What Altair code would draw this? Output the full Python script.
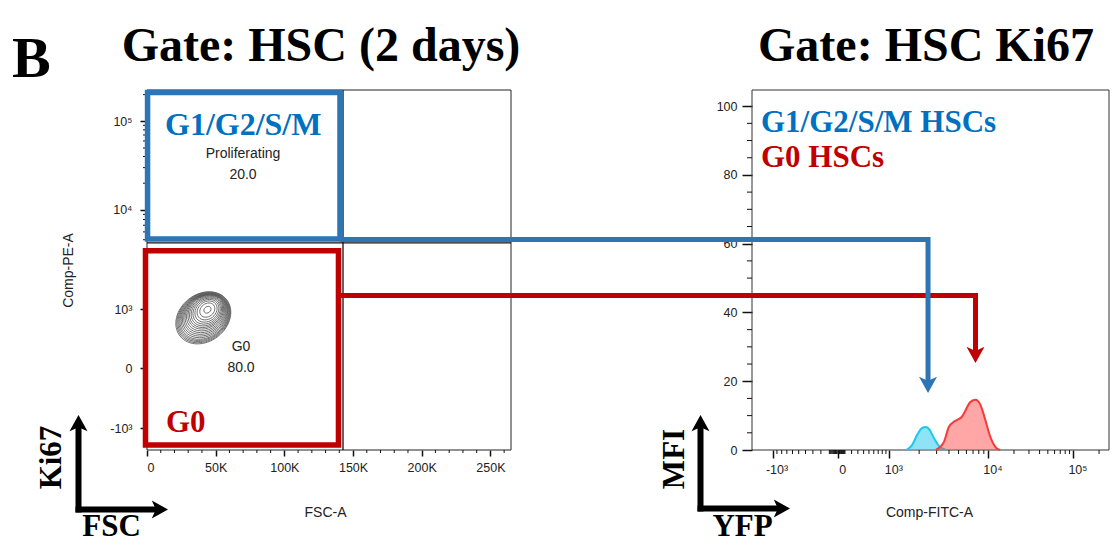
import math
import altair as alt
import pandas as pd

# ----------------------------- data -----------------------------
FSC_DOMAIN = [0, 265000]
FSC_TICKS = [0, 50000, 100000, 150000, 200000, 250000]
FSC_TICK_LABELS = ["0", "50K", "100K", "150K", "200K", "250K"]
FSC_MINOR = [10000, 20000, 30000, 40000, 60000, 70000, 80000, 90000,
             110000, 120000, 130000, 140000, 160000, 170000, 180000, 190000,
             210000, 220000, 230000, 240000, 260000]

CH_DOMAIN = [0, 1024]                      # logicle display channel
DECADES = [-1000, 0, 1000, 10000, 100000]
DECADE_LABELS = ["-10³", "0", "10³", "10⁴", "10⁵"]
PE_DECADE_CH = [62, 233, 401, 683, 935]    # Comp-PE-A channel of each decade
FITC_DECADE_CH = [59, 247, 394, 678, 922]  # Comp-FITC-A channel of each decade
MINOR_VALUES = ([-900, -800, -700, -600, -500, -400, -300, -200, -100,
                 -90, -80, -70, -60, -50, -40, -30, -20, -10,
                 10, 20, 30, 40, 50, 60, 70, 80, 90,
                 100, 200, 300, 400, 500, 600, 700, 800, 900,
                 2000, 3000, 4000, 5000, 6000, 7000, 8000, 9000,
                 20000, 30000, 40000, 50000, 60000, 70000, 80000, 90000, 200000])

MFI_DOMAIN = [0, 104.7]
MFI_TICKS = [0, 20, 40, 60, 80, 100]
MFI_MINOR = [5, 10, 15, 25, 30, 35, 45, 50, 55, 65, 70, 75, 85, 90, 95]

# gates: FSC-A (linear) x Comp-PE-A (channel)
GATE_NAMES = ["G1/G2/S/M", "G0"]
GATE_FSC_MIN = [400, -1100]
GATE_FSC_MAX = [140500, 139400]
GATE_PE_MIN = [600, 14]
GATE_PE_MAX = [1017, 567]
GATE_STAT_NAME = ["Proliferating", "G0"]
GATE_PCT = ["20.0", "80.0"]
QUAD_FSC = [142700]
QUAD_PE = [589]

# contour levels of the HSC population
CONTOUR_LEVEL = [1, 2, 3, 4, 5, 6, 7, 8, 9, 10, 11, 12, 13, 14, 15, 16, 17, 18]
CONTOUR_FSC = [41000, 41150, 41300, 41450, 41600, 41800, 42000, 42200, 42400,
               42600, 42800, 43000, 43200, 43400, 43600, 43750, 43900, 44000]
CONTOUR_PE = [376, 377, 378, 379, 380, 382, 384, 386, 388,
              390, 392, 393, 394, 395, 396, 397, 398, 399]

# histograms: Comp-FITC-A channel vs MFI
BLUE_CH = [442.5, 459.5, 473.7, 487.9, 499.2, 507.7, 521.9, 536.1, 556.0]
BLUE_MFI = [0, 1.5, 4.4, 6.4, 6.7, 6.1, 3.5, 1.2, 0]
RED_CH = [527.6, 550.3, 564.5, 578.7, 601.4, 626.9, 641.1, 655.3, 669.4, 683.6, 700.6, 712.0]
RED_MFI = [0, 2.3, 6.7, 8.2, 9.6, 14.0, 14.6, 13.1, 8.7, 3.8, 0.6, 0]

# connector arrows from the gates to their histograms (right-panel units)
ARROW_START_CH = [-1182, -1182]
ARROW_CORNER_CH = [504.9, 641.1]
ARROW_Y_MFI = [61.2, 44.9]
ARROW_HEAD_MFI = [19.2, 27.9]

# ----------------------------- style -----------------------------
BLUE = "#2E75B6"
BLUE_TXT = "#0070C0"
RED = "#C00000"
SERIF = "Liberation Serif"
SANS = "Liberation Sans"
HEAD = "M 0 -1 L 1 0.8 L 0 0.35 L -1 0.8 Z"
ELLIPSE = "M -1 0 A 1 0.8 0 1 1 1 0 A 1 0.8 0 1 1 -1 0 Z"
DUMMY = pd.DataFrame({"a": [0]})
W = 962
XR0 = 605


def chain(values, labels):
    expr = "''"
    for v, l in reversed(list(zip(values, labels))):
        expr = f"datum.value == {v} ? '{l}' : {expr}"
    return expr


def logicle_ch(v, anchors):
    cm, c0, c3, c4, c5 = anchors
    if abs(v) <= 1000:
        frac = math.asinh(v / 543.0) / math.asinh(1000 / 543.0)
        return c0 + frac * ((c3 - c0) if v >= 0 else (c0 - cm))
    d = math.log10(v)
    if d <= 4:
        return c3 + (d - 3) * (c4 - c3)
    return c4 + (d - 4) * (c5 - c4)


COMMON = dict(grid=False, domain=False, tickColor="#111", tickWidth=1.5,
              labelFont=SANS, labelFontSize=12.5, labelColor="#222",
              titleFont=SANS, titleFontSize=14, titleFontWeight="normal", titleColor="#222")

SC_XL = alt.Scale(domain=FSC_DOMAIN, range=[0, 364], nice=False, zero=False)
SC_YL = alt.Scale(domain=CH_DOMAIN, nice=False, zero=False)
SC_XR = alt.Scale(domain=CH_DOMAIN, range=[XR0, W], nice=False, zero=False)
SC_YR = alt.Scale(domain=MFI_DOMAIN, nice=False, zero=False)

AX_XL = alt.Axis(orient="bottom", values=FSC_TICKS, labelExpr=chain(FSC_TICKS, FSC_TICK_LABELS),
                 tickSize=6, labelPadding=5, title="FSC-A", titleX=178, titleY=62,
                 titleBaseline="middle", **COMMON)
AX_YL = alt.Axis(orient="left", values=PE_DECADE_CH, labelExpr=chain(PE_DECADE_CH, DECADE_LABELS),
                 tickSize=7, labelPadding=8, title="Comp-PE-A", titleX=-79, titleY=180,
                 titleAngle=270, titleBaseline="middle", **COMMON)
AX_XR = alt.Axis(orient="bottom", values=FITC_DECADE_CH, labelExpr=chain(FITC_DECADE_CH, DECADE_LABELS),
                 tickSize=8, labelPadding=5, labelOffset=4, title="Comp-FITC-A", titleX=782, titleY=62,
                 titleBaseline="middle", **COMMON)
AX_YR = alt.Axis(orient="left", offset=-XR0, values=MFI_TICKS, format="d",
                 tickSize=10, labelPadding=5, title=None, **COMMON)


def xl(f):
    return alt.X(f, type="quantitative", scale=SC_XL, axis=AX_XL)


def yl(f):
    return alt.Y(f, type="quantitative", scale=SC_YL, axis=AX_YL)


def xr(f):
    return alt.X(f, type="quantitative", scale=SC_XR, axis=AX_XR)


def yr(f):
    return alt.Y(f, type="quantitative", scale=SC_YR, axis=AX_YR, stack=None)


def label(text, x, y, size, color="#222", font=SANS, weight="normal", align="center",
          baseline="middle", angle=0):
    return alt.Chart(pd.DataFrame({"t": [text]})).mark_text(
        font=font, fontSize=size, fontWeight=weight, color=color, align=align,
        baseline=baseline, angle=angle).encode(x=alt.value(x), y=alt.value(y), text="t:N")


def prule(x1, x2, y1, y2, color, w):
    return alt.Chart(DUMMY).mark_rule(color=color, strokeWidth=w, strokeCap="butt").encode(
        x=alt.value(x1), x2=alt.value(x2), y=alt.value(y1), y2=alt.value(y2))


def phead(x, y, angle, color):
    return alt.Chart(DUMMY).mark_point(shape=HEAD, filled=True, color=color, size=324,
                                       angle=angle, opacity=1).encode(x=alt.value(x), y=alt.value(y))


# ----------------------------- left panel -----------------------------
frame_l = alt.Chart(pd.DataFrame({"x1": [FSC_DOMAIN[0]], "x2": [FSC_DOMAIN[1]],
                                  "y1": [CH_DOMAIN[0]], "y2": [CH_DOMAIN[1]]})).mark_rect(
    fillOpacity=0, stroke="#222", strokeWidth=1).encode(x=xl("x1"), x2="x2", y=yl("y1"), y2="y2")

quad_v = alt.Chart(pd.DataFrame({"q": QUAD_FSC})).mark_rule(color="#111", strokeWidth=1.3).encode(
    x=xl("q"), y=alt.value(0), y2=alt.value(360))
quad_h = alt.Chart(pd.DataFrame({"q": QUAD_PE})).mark_rule(color="#111", strokeWidth=1.3).encode(
    y=yl("q"), x=alt.value(0), x2=alt.value(364))

contours = alt.Chart(pd.DataFrame({"level": CONTOUR_LEVEL, "fsc": CONTOUR_FSC, "pe": CONTOUR_PE})).mark_point(
    shape=ELLIPSE, filled=False, color="#5a5a5a", strokeWidth=0.8, angle=322, opacity=1).encode(
    x=xl("fsc"), y=yl("pe"),
    size=alt.Size("level:Q", scale=alt.Scale(domain=[1, 18], range=[3500, 60]), legend=None))

gates = alt.Chart(pd.DataFrame({"gate": GATE_NAMES, "x1": GATE_FSC_MIN, "x2": GATE_FSC_MAX,
                                "y1": GATE_PE_MIN, "y2": GATE_PE_MAX})).mark_rect(
    fillOpacity=0, strokeWidth=5.5, strokeJoin="miter").encode(
    x=xl("x1"), x2="x2", y=yl("y1"), y2="y2",
    stroke=alt.Stroke("gate:N", scale=alt.Scale(domain=GATE_NAMES, range=[BLUE, RED]), legend=None))

minor_xl = alt.Chart(pd.DataFrame({"v": FSC_MINOR})).mark_rule(color="#111", strokeWidth=1).encode(
    x=xl("v"), y=alt.value(360), y2=alt.value(363))
pe_minor = [c for c in (logicle_ch(v, PE_DECADE_CH) for v in MINOR_VALUES) if 0 <= c <= 1024]
minor_yl = alt.Chart(pd.DataFrame({"v": pe_minor})).mark_rule(color="#111", strokeWidth=1).encode(
    y=yl("v"), x=alt.value(-4), x2=alt.value(0))

left = alt.layer(
    frame_l, quad_v, quad_h, contours, minor_xl, minor_yl,
    label(GATE_STAT_NAME[0], 96, 64, 14),
    label(GATE_PCT[0], 96, 85, 14),
    label(GATE_STAT_NAME[1], 94, 257, 14),
    label(GATE_PCT[1], 94, 278, 14),
    gates,
    label(GATE_NAMES[0], 18, 45, 32, BLUE_TXT, SERIF, "bold", "left", "alphabetic"),
    label(GATE_NAMES[1], 19, 342, 31, RED, SERIF, "bold", "left", "alphabetic"),
)

# ----------------------------- right panel -----------------------------
frame_r = alt.Chart(pd.DataFrame({"x1": [CH_DOMAIN[0]], "x2": [CH_DOMAIN[1]],
                                  "y1": [MFI_DOMAIN[0]], "y2": [MFI_DOMAIN[1]]})).mark_rect(
    fillOpacity=0, stroke="#333", strokeWidth=1).encode(x=xr("x1"), x2="x2", y=yr("y1"), y2="y2")

blue_hist = alt.Chart(pd.DataFrame({"ch": BLUE_CH, "mfi": BLUE_MFI})).mark_area(
    color="#1EC8F0", fillOpacity=0.5, interpolate="monotone",
    line=alt.OverlayMarkDef(color="#1EC8F0", strokeWidth=2)).encode(x=xr("ch"), y=yr("mfi"))
red_hist = alt.Chart(pd.DataFrame({"ch": RED_CH, "mfi": RED_MFI})).mark_area(
    color="#FF4D4D", fillOpacity=0.5, interpolate="monotone",
    line=alt.OverlayMarkDef(color="#F53C3C", strokeWidth=2)).encode(x=xr("ch"), y=yr("mfi"))

fitc_minor = [c for c in (logicle_ch(v, FITC_DECADE_CH) for v in MINOR_VALUES) if 0 <= c <= 1024]
minor_xr = alt.Chart(pd.DataFrame({"v": fitc_minor})).mark_rule(color="#111", strokeWidth=1).encode(
    x=xr("v"), y=alt.value(360), y2=alt.value(364))
minor_yr = alt.Chart(pd.DataFrame({"v": MFI_MINOR})).mark_rule(color="#111", strokeWidth=1).encode(
    y=yr("v"), x=alt.value(XR0 - 5), x2=alt.value(XR0))


def connector(i, color):
    df = pd.DataFrame({"step": [0, 1, 2],
                       "ch": [ARROW_START_CH[i], ARROW_CORNER_CH[i], ARROW_CORNER_CH[i]],
                       "mfi": [ARROW_Y_MFI[i], ARROW_Y_MFI[i], ARROW_HEAD_MFI[i]]})
    line = alt.Chart(df).mark_line(color=color, strokeWidth=5, strokeJoin="miter",
                                   strokeCap="butt").encode(x=xr("ch"), y=yr("mfi"), order="step:Q")
    head = alt.Chart(df.iloc[[2]]).mark_point(shape=HEAD, filled=True, color=color, size=324,
                                             angle=180, opacity=1).encode(x=xr("ch"), y=yr("mfi"))
    return [line, head]


right = alt.layer(
    frame_r, minor_xr, minor_yr, blue_hist, red_hist,
    label("G1/G2/S/M HSCs", XR0 + 9, 42, 31, BLUE_TXT, SERIF, "bold", "left", "alphabetic"),
    label("G0 HSCs", XR0 + 9, 77, 31, RED, SERIF, "bold", "left", "alphabetic"),
    *connector(1, RED), *connector(0, BLUE),
    # titles and panel letter
    label("B", -135, -13, 58, "#000", SERIF, "bold", "left", "alphabetic"),
    label("Gate: HSC (2 days)", 174, -29, 48, "#000", SERIF, "bold", "center", "alphabetic"),
    label("Gate: HSC Ki67", 779, -29, 48, "#000", SERIF, "bold", "center", "alphabetic"),
    # axis arrows
    prule(-68.5, -68.5, 422.5, 336, "#000", 6), phead(-68.5, 334, 0, "#000"),
    prule(-71.5, 12, 419.5, 419.5, "#000", 6), phead(12, 419.5, 90, "#000"),
    label("Ki67", -95.5, 367.5, 31, "#000", SERIF, "bold", "center", "middle", 270),
    label("FSC", -35.5, 446, 31, "#000", SERIF, "bold", "center", "alphabetic"),
    prule(553.5, 553.5, 421.5, 336, "#000", 6), phead(553.5, 334, 0, "#000"),
    prule(550.5, 634, 418.5, 418.5, "#000", 6), phead(634, 418.5, 90, "#000"),
    label("MFI", 528, 369, 31, "#000", SERIF, "bold", "center", "middle", 270),
    label("YFP", 595.5, 446, 31, "#000", SERIF, "bold", "center", "alphabetic"),
)

chart = alt.layer(left, right).resolve_scale(x="independent", y="independent").properties(
    width=W, height=360,
    autosize=alt.AutoSizeParams(type="none"),
    padding={"left": 139, "top": 82, "right": 1, "bottom": 93},
).configure_view(stroke=None)

chart.save("out.html", embed_options={"renderer": "svg", "actions": False})
